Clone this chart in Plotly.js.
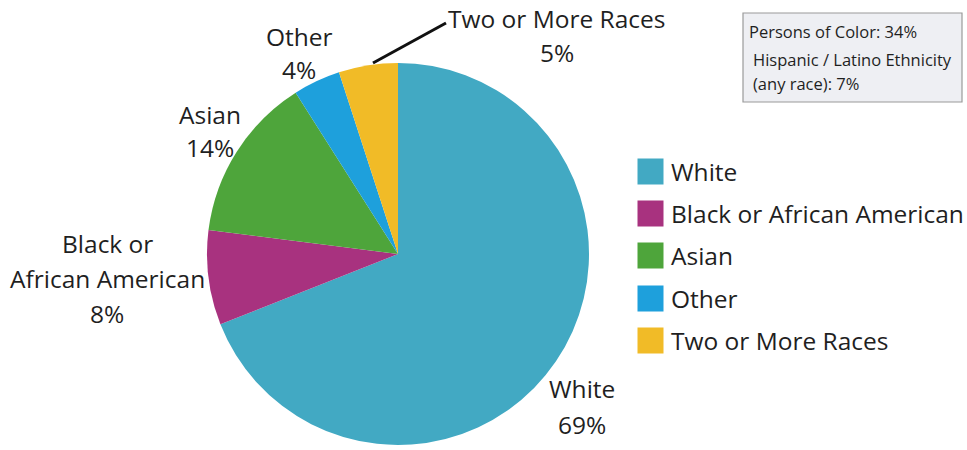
<!DOCTYPE html>
<html>
<head>
<meta charset="utf-8">
<script src="https://cdn.plot.ly/plotly-3.0.1.min.js"></script>
<style>html,body{margin:0;padding:0;background:#fff;}#chart{width:967px;height:450px;}</style>
</head>
<body>
<div id="chart"></div>
<script>
// ---- data ----
const categories = ["White", "Black or African American", "Asian", "Other", "Two or More Races"];
const values = [69, 8, 14, 4, 5];
const colors = ["#42A9C3", "#A8327F", "#4EA53B", "#1EA0DC", "#F1BB27"];
const sliceLabelLines = [["White"], ["Black or", "African American"], ["Asian"], ["Other"], ["Two or More Races"]];
const infoLines = ["Persons of Color: 34%", "Hispanic / Latino Ethnicity", "(any race): 7%"];

// ---- layout helpers (pixel positions) ----
const W = 967, H = 450;
const px = x => x / W;
const py = y => 1 - y / H;
const FONT = "'Open Sans', Lato, sans-serif";
const TXT = "#1f1f1f";
const FS = 24.5;

// per-slice label line centres [x, y] in pixels
const labelPos = [
  [[582, 388], [582, 424]],
  [[107, 243], [107, 278], [107, 313]],
  [[210, 114], [210, 147]],
  [[299, 37], [299, 69]],
  [[557, 18], [557, 53]]
];

const annotations = [];
categories.forEach((c, i) => {
  const lines = sliceLabelLines[i].concat([values[i] + "%"]);
  lines.forEach((t, j) => {
    const p = labelPos[i][j];
    annotations.push({x: px(p[0]), y: py(p[1]), xref: "paper", yref: "paper",
      text: t, showarrow: false, xanchor: "center", yanchor: "middle",
      font: {family: FONT, size: FS, color: TXT}});
  });
});

// custom legend
const legX = 637, legY0 = 171, legDy = 42.4;
categories.forEach((c, i) => {
  const y = legY0 + i * legDy;
  annotations.push({x: px(legX), y: py(y), xref: "paper", yref: "paper", text: " ",
    showarrow: false, xanchor: "left", yanchor: "middle", width: 25, height: 25,
    bgcolor: colors[i], borderpad: 0, font: {size: 2}});
  annotations.push({x: px(669), y: py(y), xref: "paper", yref: "paper", text: c,
    showarrow: false, xanchor: "left", yanchor: "middle",
    font: {family: FONT, size: FS, color: TXT}});
});

// info box text
const infoPos = [[747, 31], [751, 59], [751, 84]];
infoLines.forEach((t, j) => {
  annotations.push({x: px(infoPos[j][0]), y: py(infoPos[j][1]), xref: "paper", yref: "paper",
    text: t, showarrow: false, xanchor: "left", yanchor: "middle",
    font: {family: FONT, size: 16.5, color: TXT}});
});

const cx = 398, cy = 254, r = 191;
const data = [{
  type: "pie",
  labels: categories,
  values: values,
  marker: {colors: colors, line: {width: 0}},
  sort: false,
  direction: "clockwise",
  rotation: 0,
  textinfo: "none",
  hoverinfo: "label+percent",
  showlegend: false,
  domain: {x: [px(cx - r), px(cx + r)], y: [py(cy + r), py(cy - r)]}
}];

const layout = {
  width: W, height: H,
  margin: {l: 0, r: 0, t: 0, b: 0},
  paper_bgcolor: "#ffffff",
  showlegend: false,
  annotations: annotations,
  shapes: [
    {type: "rect", xref: "paper", yref: "paper", x0: px(743), x1: px(962), y0: py(102), y1: py(13),
     fillcolor: "#EEEFF3", line: {color: "#9a9a9a", width: 1.2}, layer: "below"},
    {type: "line", xref: "paper", yref: "paper", x0: px(373), y0: py(63), x1: px(446), y1: py(23),
     line: {color: "#111", width: 3}}
  ]
};

Plotly.newPlot("chart", data, layout, {displayModeBar: false, staticPlot: true});
</script>
</body>
</html>
